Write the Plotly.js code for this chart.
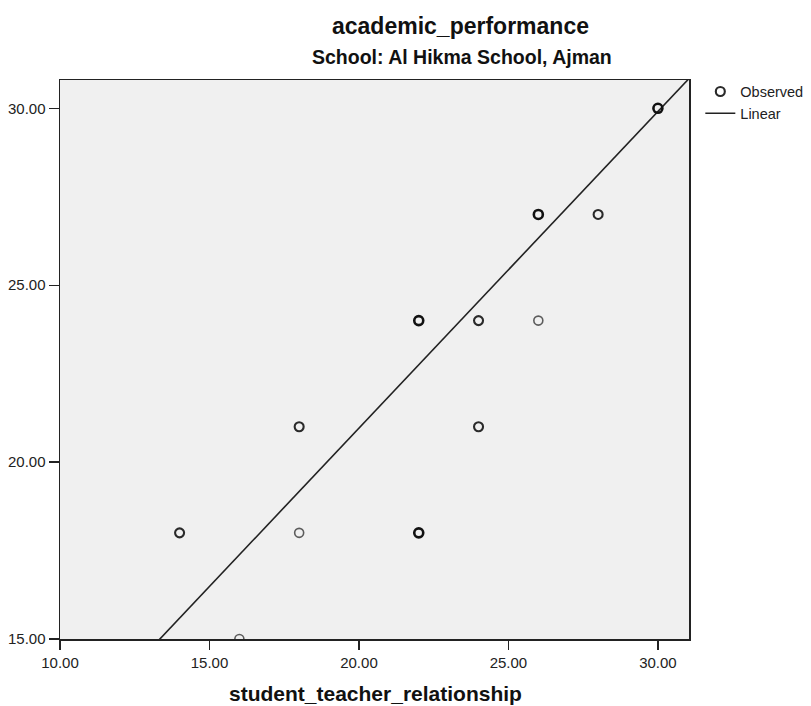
<!DOCTYPE html>
<html>
<head>
<meta charset="utf-8">
<script src="https://cdn.plot.ly/plotly-3.0.1.min.js"></script>
<style>html,body{margin:0;padding:0;background:#fff;}#chart{width:811px;height:706px;}</style>
</head>
<body>
<div id="chart"></div>
<script>
// Observed data (student_teacher_relationship vs academic_performance)
const xValues = [14, 16, 18, 18, 22, 22, 24, 24, 26, 26, 28, 30];
const yValues = [18, 15, 21, 18, 24, 18, 24, 21, 27, 24, 27, 30];
// number of overlapping observations at each point (darker rings = more cases)
const counts  = [2, 1, 2, 1, 3, 3, 2, 2, 3, 1, 2, 3];
// linear fit
const fitIntercept = 3.06;
const fitSlope = 0.895;
const xTickVals = [10, 15, 20, 25, 30];
const yTickVals = [15, 20, 25, 30];
const titleText = "academic_performance";
const subtitleText = "School: Al Hikma School, Ajman";
const xTitleText = "student_teacher_relationship";

const xRange = [10, 31.04];
const yRange = [15, 30.8];

const lineX = [xRange[0], xRange[1] + 1];
const lineY = lineX.map(v => fitIntercept + fitSlope * v);

const widthFor = c => c >= 3 ? 2.6 : (c === 2 ? 2.1 : 1.6);
const colorFor = c => c >= 3 ? '#111111' : (c === 2 ? '#2a2a2a' : '#5c5c5c');

const font = 'Liberation Sans, Arial, sans-serif';

const traces = [
  {
    x: lineX, y: lineY, type: 'scatter', mode: 'lines', name: 'Linear',
    line: {color: '#222222', width: 1.6}, hoverinfo: 'skip'
  },
  {
    x: xValues, y: yValues, type: 'scatter', mode: 'markers', name: 'Observed',
    marker: {
      symbol: 'circle-open', size: 9,
      color: counts.map(colorFor),
      line: {width: counts.map(widthFor), color: counts.map(colorFor)}
    }
  }
];

const layout = {
  width: 811, height: 706,
  margin: {l: 60, r: 122, t: 80, b: 67, autoexpand: false},
  paper_bgcolor: '#ffffff',
  plot_bgcolor: '#f0f0f0',
  font: {family: font, size: 15, color: '#222222'},
  showlegend: true,
  legend: {
    x: 1.018, xanchor: 'left', y: 1.008, yanchor: 'top',
    traceorder: 'reversed', font: {family: font, size: 14.5, color: '#222222'},
    bgcolor: 'rgba(0,0,0,0)', borderwidth: 0, tracegroupgap: 0
  },
  xaxis: {
    range: xRange, tickvals: xTickVals, tickformat: '.2f',
    ticks: 'outside', ticklen: 9, tickwidth: 1.3, tickcolor: '#222222',
    showline: true, linecolor: '#222222', linewidth: 1.5, mirror: true,
    showgrid: false, zeroline: false,
    tickfont: {family: font, size: 15, color: '#222222'}
  },
  yaxis: {
    range: yRange, tickvals: yTickVals, tickformat: '.2f',
    ticks: 'outside', ticklen: 10, tickwidth: 1.3, tickcolor: '#222222',
    showline: true, linecolor: '#222222', linewidth: 1.5, mirror: true,
    showgrid: false, zeroline: false,
    tickfont: {family: font, size: 15, color: '#222222'}
  },
  annotations: [
    {text: '<b>' + titleText + '</b>', xref: 'paper', yref: 'paper', x: 0.636, y: 1.096,
     xanchor: 'center', yanchor: 'middle', showarrow: false,
     font: {family: font, size: 23, color: '#111111'}},
    {text: '<b>' + subtitleText + '</b>', xref: 'paper', yref: 'paper', x: 0.639, y: 1.041,
     xanchor: 'center', yanchor: 'middle', showarrow: false,
     font: {family: font, size: 19.5, color: '#111111'}},
    {text: '<b>' + xTitleText + '</b>', xref: 'paper', yref: 'paper', x: 0.502, y: -0.098,
     xanchor: 'center', yanchor: 'middle', showarrow: false,
     font: {family: font, size: 21, color: '#111111'}}
  ]
};

Plotly.newPlot('chart', traces, layout, {displayModeBar: false, staticPlot: true});
</script>
</body>
</html>
